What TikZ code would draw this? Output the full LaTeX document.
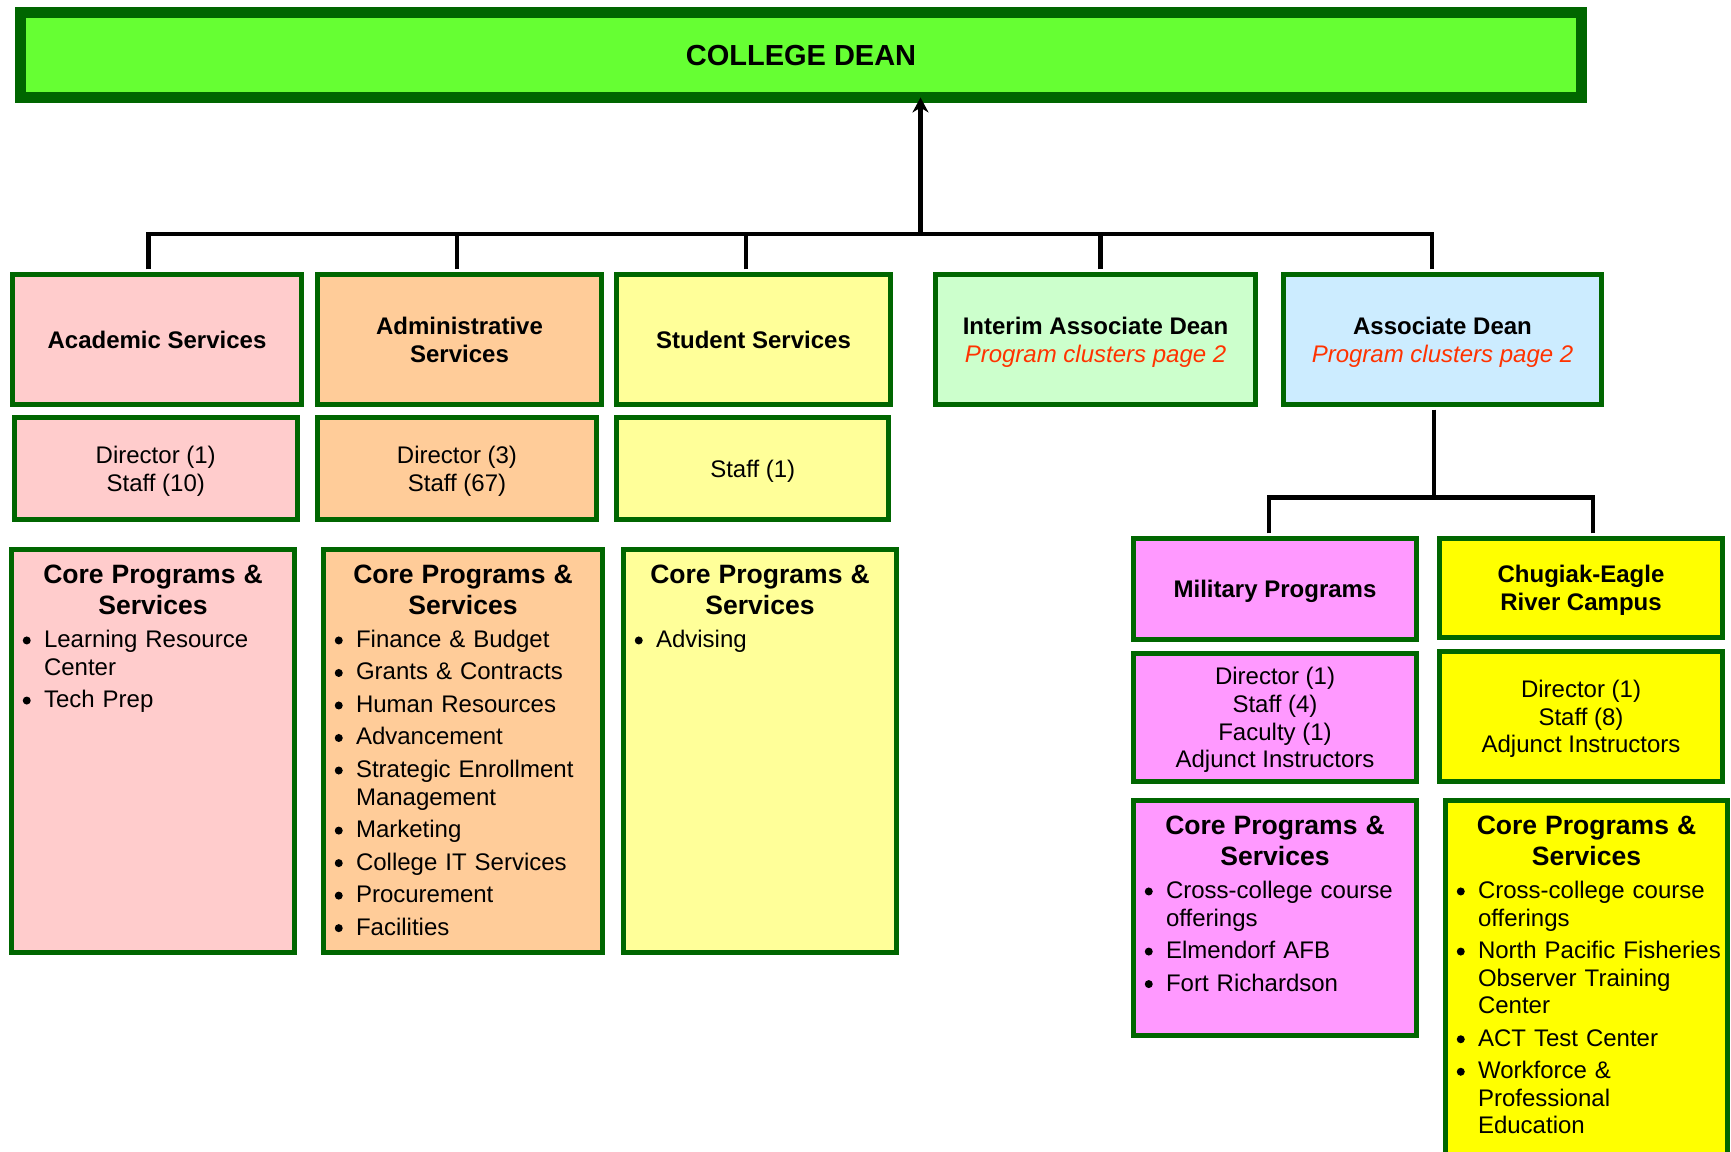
\documentclass[tikz,border=0pt]{standalone}
\usepackage{fontspec}
\setmainfont{Liberation Sans}
\usetikzlibrary{arrows.meta}

\definecolor{frame}{HTML}{006600}
\definecolor{deanfill}{HTML}{66FF33}
\definecolor{acadfill}{HTML}{FFCCCC}
\definecolor{adminfill}{HTML}{FFCC99}
\definecolor{studfill}{HTML}{FFFF99}
\definecolor{interimfill}{HTML}{CCFFCC}
\definecolor{assocfill}{HTML}{CCECFF}
\definecolor{milfill}{HTML}{FF99FF}
\definecolor{chugfill}{HTML}{FFFF00}
\definecolor{clusterred}{HTML}{FF3300}

\newcommand{\unitfont}{\fontsize{13.66}{15.7}\selectfont}
\newcommand{\corehead}{{\centering\fontsize{15.1}{17.6}\selectfont\bfseries Core Programs \&\\Services\par}}
\newcommand{\dotmark}{\tikz[baseline={(0,-0.14cm)}]\fill[black] (0,0) circle (0.08cm);}
\newenvironment{corelist}{%
  \list{\dotmark}{%
    \setlength{\leftmargin}{0.645cm}%
    \setlength{\labelsep}{0.265cm}%
    \setlength{\labelwidth}{0.38cm}%
    \setlength{\itemsep}{2.8pt}%
    \setlength{\parsep}{0pt}%
    \setlength{\topsep}{3.0pt}%
    \setlength{\partopsep}{0pt}}}%
  {\endlist}

\begin{document}
\begin{tikzpicture}[
        unit/.style={draw=frame, line width=3.1pt, inner sep=1pt, align=center, font=\unitfont\bfseries, text depth=0pt},
        staffbox/.style={unit, font=\unitfont},
        corebox/.style={draw=frame, line width=3.1pt, inner sep=0pt},
        coretext/.style={anchor=north, inner sep=0pt, align=left, font=\unitfont},
        link/.style={line width=2.5pt, shorten <=1.55pt},
        rise/.style={line width=2.5pt, -{Stealth[length=0.3cm, width=0.32cm]}, shorten >=-0.11cm}
    ]
        \useasboundingbox (0,0) rectangle (34.62,-23.02);
        \clip (0,0) rectangle (34.62,-23.02);

        % Dean on top
        \node[unit, fill=deanfill, line width=6.2pt, minimum width=31.22cm, minimum height=1.70cm,
              font=\fontsize{16.5}{19}\selectfont\bfseries, text depth=-1pt] (dean) at (16.02,-1.10) {COLLEGE DEAN};

        % First row of units
        \node[unit, fill=acadfill, minimum width=5.77cm, minimum height=2.59cm] (acad) at (3.14,-6.79) {Academic Services};
        \node[unit, fill=adminfill, minimum width=5.67cm, minimum height=2.59cm] (admin) at (9.19,-6.79) {Administrative\\Services};
        \node[unit, fill=studfill, minimum width=5.47cm, minimum height=2.59cm] (stud) at (15.07,-6.79) {Student Services};
        \node[unit, fill=interimfill, minimum width=6.39cm, minimum height=2.59cm] (interim) at (21.91,-6.79)
            {Interim Associate Dean\\{\mdseries\itshape\color{clusterred}Program clusters page 2}};
        \node[unit, fill=assocfill, minimum width=6.35cm, minimum height=2.59cm] (assoc) at (28.85,-6.79)
            {Associate Dean\\{\mdseries\itshape\color{clusterred}Program clusters page 2}};

        % Staff counts
        \node[staffbox, fill=acadfill, minimum width=5.66cm, minimum height=2.04cm] (acadstaff) at (3.115,-9.375) {Director (1)\\Staff (10)};
        \node[staffbox, fill=adminfill, minimum width=5.57cm, minimum height=2.04cm] (adminstaff) at (9.14,-9.375) {Director (3)\\Staff (67)};
        \node[staffbox, fill=studfill, minimum width=5.44cm, minimum height=2.04cm] (studstaff) at (15.055,-9.375) {Staff (1)};

        % Core programs of the left units
        \node[corebox, fill=acadfill, minimum width=5.65cm, minimum height=8.05cm] (acadcore) at (3.06,-15.02) {};
        \node[coretext, text width=5.65cm] (acadlist) at ([yshift=-0.355cm]acadcore.north) {\corehead
            \begin{corelist}
                \item Learning Resource\\Center
                \item Tech Prep
            \end{corelist}};
        \node[corebox, fill=adminfill, minimum width=5.57cm, minimum height=8.05cm] (admincore) at (9.26,-15.02) {};
        \node[coretext, text width=5.57cm] (adminlist) at ([yshift=-0.355cm]admincore.north) {\corehead
            \begin{corelist}
                \item Finance \& Budget
                \item Grants \& Contracts
                \item Human Resources
                \item Advancement
                \item Strategic Enrollment\\Management
                \item Marketing
                \item College IT Services
                \item Procurement
                \item Facilities
            \end{corelist}};
        \node[corebox, fill=studfill, minimum width=5.45cm, minimum height=8.05cm] (studcore) at (15.2,-15.02) {};
        \node[coretext, text width=5.45cm] (studlist) at ([yshift=-0.355cm]studcore.north) {\corehead
            \begin{corelist}
                \item Advising
            \end{corelist}};

        % Units under the associate dean
        \node[unit, fill=milfill, minimum width=5.65cm, minimum height=2.01cm] (mil) at (25.5,-11.78) {Military Programs};
        \node[unit, fill=chugfill, minimum width=5.65cm, minimum height=1.97cm] (chug) at (31.62,-11.76) {Chugiak-Eagle\\River Campus};
        \node[staffbox, fill=milfill, minimum width=5.65cm, minimum height=2.55cm] (milstaff) at (25.5,-14.35)
            {Director (1)\\Staff (4)\\Faculty (1)\\Adjunct Instructors};
        \node[staffbox, fill=chugfill, minimum width=5.65cm, minimum height=2.59cm] (chugstaff) at (31.62,-14.33)
            {Director (1)\\Staff (8)\\Adjunct Instructors};
        \node[corebox, fill=milfill, minimum width=5.65cm, minimum height=4.69cm] (milcore) at (25.5,-18.36) {};
        \node[coretext, text width=5.65cm] (millist) at ([yshift=-0.355cm]milcore.north) {\corehead
            \begin{corelist}
                \item Cross-college course\\offerings
                \item Elmendorf AFB
                \item Fort Richardson
            \end{corelist}};
        \node[corebox, fill=chugfill, minimum width=5.63cm, minimum height=7.43cm] (chugcore) at (31.73,-19.73) {};
        \node[coretext, text width=5.63cm] (chuglist) at ([yshift=-0.355cm]chugcore.north) {\corehead
            \begin{corelist}
                \item Cross-college course\\offerings
                \item North Pacific Fisheries\\Observer Training\\Center
                \item ACT Test Center
                \item Workforce \&\\Professional\\Education
            \end{corelist}};

        % Lines up to the dean
        \coordinate (bus) at (18.41,-4.68);
        \draw[link] ([xshift=-0.17cm]acad.north) |- (bus);
        \draw[link] ([xshift=-0.05cm]admin.north) |- (bus);
        \draw[link] ([xshift=-0.15cm]stud.north) |- (bus);
        \draw[link] ([xshift=0.10cm]interim.north) |- (bus);
        \draw[link] ([xshift=-0.21cm]assoc.north) |- (bus);
        \draw[rise] (bus) -- (bus |- dean.south);

        % Lines under the associate dean
        \coordinate (campusbus) at (28.68,-9.95);
        \draw[link] (assoc.south -| campusbus) -- (campusbus);
        \draw[link] ([xshift=-0.12cm]mil.north) |- (campusbus);
        \draw[link] ([xshift=0.24cm]chug.north) |- (campusbus);
    \end{tikzpicture}
\end{document}
